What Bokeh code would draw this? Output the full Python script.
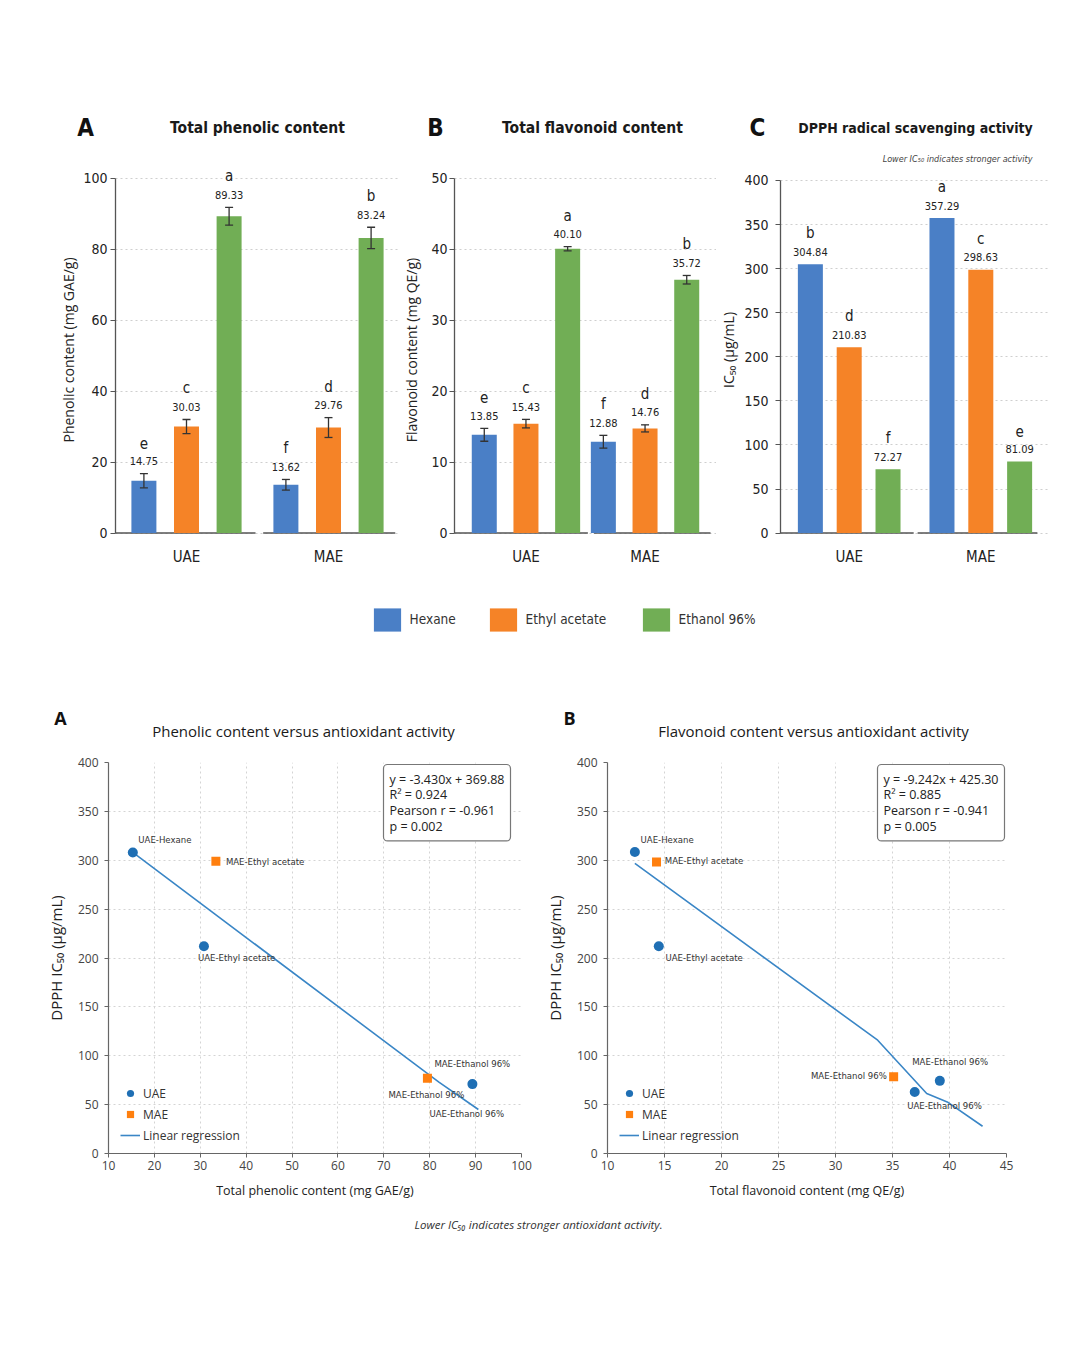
from bokeh.plotting import figure
from bokeh.models import (ColumnDataSource, FactorRange, Range1d, Label, LabelSet,
                          Legend, LegendItem, Spacer, FixedTicker)
from bokeh.transform import dodge
from bokeh.layouts import column, row
from bokeh.embed import file_html
from bokeh.resources import INLINE
from bokeh.core.properties import value

# ---------------- data ----------------
groups = ["UAE", "MAE"]
solvents = ["Hexane", "Ethyl acetate", "Ethanol 96%"]

tpc_uae = [14.75, 30.03, 89.33]
tpc_mae = [13.62, 29.76, 83.24]
tpc_err_uae = [2.0, 2.0, 2.5]
tpc_err_mae = [1.5, 2.8, 3.0]
tpc_let_uae = ["e", "c", "a"]
tpc_let_mae = ["f", "d", "b"]

tfc_uae = [13.85, 15.43, 40.10]
tfc_mae = [12.88, 14.76, 35.72]
tfc_err_uae = [0.9, 0.6, 0.3]
tfc_err_mae = [0.9, 0.5, 0.6]
tfc_let_uae = ["e", "c", "a"]
tfc_let_mae = ["f", "d", "b"]

ic50_uae = [304.84, 210.83, 72.27]
ic50_mae = [357.29, 298.63, 81.09]
ic50_err_uae = [0, 0, 0]
ic50_err_mae = [0, 0, 0]
ic50_let_uae = ["b", "d", "f"]
ic50_let_mae = ["a", "c", "e"]

# correlation A: phenolic content vs DPPH IC50
ph_uae_x = [15.3, 30.8, 89.3]
ph_uae_y = [308, 212, 71]
ph_mae_x = [33.4, 79.5]
ph_mae_y = [299, 77]
ph_fit_x = [15.3, 82.0, 90.6]
ph_fit_y = [308, 73, 45]
ph_stats = ["y = -3.430x + 369.88", "R² = 0.924", "Pearson r = -0.961", "p = 0.002"]
ph_labels = ["UAE-Hexane", "MAE-Ethyl acetate", "UAE-Ethyl acetate",
             "MAE-Ethanol 96%", "MAE-Ethanol 96%", "UAE-Ethanol 96%"]

# correlation B: flavonoid content vs DPPH IC50
fl_uae_x = [12.4, 14.5, 36.95, 39.15]
fl_uae_y = [308.5, 212, 63, 74.3]
fl_mae_x = [14.3, 35.1]
fl_mae_y = [298.3, 78.4]
fl_fit_x = [12.4, 33.7, 38.0, 39.8, 42.9]
fl_fit_y = [296.7, 115.9, 61.4, 52.8, 27.9]
fl_stats = ["y = -9.242x + 425.30", "R² = 0.885", "Pearson r = -0.941", "p = 0.005"]
fl_labels = ["UAE-Hexane", "MAE-Ethyl acetate", "UAE-Ethyl acetate",
             "MAE-Ethanol 96%", "MAE-Ethanol 96%", "UAE-Ethanol 96%"]

# ---------------- styles ----------------
COND = "DejaVu Sans Condensed, Roboto"
SANS = "Open Sans"
INK = "#222222"
AXC = "#555555"
COLORS = ["#4a7fc6", "#f58327", "#71ae55"]
PT_BLUE = "#1f6fb4"
PT_ORANGE = "#ff7f0e"
FIT_COLOR = "#3a86c6"


def blank(width, height):
    f = figure(width=width, height=height, x_range=Range1d(0, 1), y_range=Range1d(0, 1),
               x_axis_type=None, y_axis_type=None, min_border=0,
               output_backend="svg", toolbar_location=None)
    f.outline_line_color = None
    return f


def add_text(f, x, y, text, font, size, style="normal", color=INK, align="center"):
    f.add_layout(Label(x=x, y=y, x_units="screen", y_units="screen", text=text,
                       text_font=font, text_font_size=size, text_font_style=style,
                       text_color=color, text_align=align, text_baseline="middle"))


def bar_panel(ylabel, uae, mae, err_u, err_m, let_u, let_m,
              ymax, ystep, axis_px, frame_w, b_left, b_right, pad, offs, bw,
              base_lo, base_hi, tick_sd, lab_sd):
    xr = FactorRange(factors=groups, range_padding=pad)
    y0 = -ymax * 0.004
    y_end = ymax * 369.0 / axis_px
    p = figure(x_range=xr, y_range=Range1d(y0, y_end), frame_width=frame_w, frame_height=369,
               min_border_left=b_left, min_border_right=b_right, min_border_top=0,
               min_border_bottom=51, output_backend="svg", toolbar_location=None)
    p.outline_line_color = None
    p.xgrid.grid_line_color = None
    p.ygrid.grid_line_color = "#cfcfcf"
    p.ygrid.grid_line_dash = "2 3"
    p.yaxis.ticker = FixedTicker(ticks=list(range(0, ymax + 1, ystep)))
    ya = p.yaxis[0]
    ya.bounds = (0, ymax)
    ya.axis_line_color = AXC
    ya.axis_line_width = 1.3
    ya.major_tick_line_color = AXC
    ya.major_tick_out = 5
    ya.major_tick_in = 0
    ya.minor_tick_line_color = None
    ya.major_label_text_font = COND
    ya.major_label_text_font_size = "14px"
    ya.major_label_text_color = INK
    ya.major_label_standoff = tick_sd
    ya.axis_label = ylabel
    ya.axis_label_text_font = SANS
    ya.axis_label_text_font_size = "14px"
    ya.axis_label_text_font_style = "normal"
    ya.axis_label_text_color = INK
    ya.axis_label_standoff = lab_sd
    xa = p.xaxis[0]
    xa.axis_line_color = None
    xa.major_tick_line_color = None
    xa.minor_tick_line_color = None
    xa.major_label_text_font = COND
    xa.major_label_text_font_size = "15px"
    xa.major_label_text_color = INK
    xa.major_label_standoff = 7

    base = ColumnDataSource(dict(x0=[[g, lo] for g, lo in zip(groups, base_lo)],
                                 x1=[[g, hi] for g, hi in zip(groups, base_hi)],
                                 y=[0, 0]))
    p.segment(x0="x0", y0="y", x1="x1", y1="y", source=base, line_color=AXC, line_width=1.5)

    for i in range(3):
        hi = [uae[i] + err_u[i], mae[i] + err_m[i]]
        lo = [uae[i] - err_u[i], mae[i] - err_m[i]]
        src = ColumnDataSource(dict(group=groups, val=[uae[i], mae[i]], hi=hi, lo=lo,
                                    txt=[f"{uae[i]:.2f}", f"{mae[i]:.2f}"],
                                    let=[let_u[i], let_m[i]]))
        xd = dodge("group", offs[i], range=xr)
        p.vbar(x=xd, top="val", bottom=0, width=bw, source=src,
               fill_color=COLORS[i], line_color=None)
        if max(err_u[i], err_m[i]) > 0:
            p.segment(x0=xd, y0="lo", x1=xd, y1="hi", source=src, line_color="#333333", line_width=1.3)
            p.scatter(x=xd, y="hi", source=src, marker="dash", size=8, line_color="#333333", line_width=1.3)
            p.scatter(x=xd, y="lo", source=src, marker="dash", size=8, line_color="#333333", line_width=1.3)
        p.add_layout(LabelSet(x=xd, y="hi", text="txt", source=src, y_offset=12.5,
                              text_align="center", text_baseline="middle",
                              text_font=value(COND), text_font_size=value("11px"),
                              text_color=INK))
        p.add_layout(LabelSet(x=xd, y="hi", text="let", source=src, y_offset=31,
                              text_align="center", text_baseline="middle",
                              text_font=value(COND), text_font_size=value("15px"),
                              text_color=INK))
    return p


# ---------------- top header (panel letters and titles) ----------------
hdr_top = blank(1080, 65)
add_text(hdr_top, 85, 38, "A", COND, "24px", "bold", "#111111")
add_text(hdr_top, 257, 38, "Total phenolic content", COND, "15.5px", "bold", "#1a1a1a")
add_text(hdr_top, 435, 38, "B", COND, "24px", "bold", "#111111")
add_text(hdr_top, 592, 38, "Total flavonoid content", COND, "15.5px", "bold", "#1a1a1a")
add_text(hdr_top, 757, 38, "C", COND, "24px", "bold", "#111111")
add_text(hdr_top, 915, 38, "DPPH radical scavenging activity", COND, "14px", "bold", "#1a1a1a")
add_text(hdr_top, 1032, 7, "Lower IC₅₀ indicates stronger activity", COND, "9px", "italic",
         "#444444", "right")

pA = bar_panel("Phenolic content (mg GAE/g)",
               tpc_uae, tpc_mae, tpc_err_uae, tpc_err_mae, tpc_let_uae, tpc_let_mae,
               100, 20, 356, 284, 115, 0, 0.0, [-0.3, 0.0, 0.3], 0.176,
               [-1.0, -0.46], [0.486, 0.47], 3, 2)
pB = bar_panel("Flavonoid content (mg QE/g)",
               tfc_uae, tfc_mae, tfc_err_uae, tfc_err_mae, tfc_let_uae, tfc_let_mae,
               50, 10, 356, 262, 53, 0, 0.1, [-0.35, 0.0, 0.35], 0.21,
               [-1.0, -0.43], [0.52, 0.55], 2, 7)
pC = bar_panel("IC₅₀ (μg/mL)",
               ic50_uae, ic50_mae, ic50_err_uae, ic50_err_mae, ic50_let_uae, ic50_let_mae,
               400, 50, 354, 269, 64, 33, 0.022, [-0.295, 0.0, 0.295], 0.19,
               [-1.0, -0.48], [0.49, 0.43], 7, 3)

# ---------------- shared legend ----------------
lg = figure(width=1080, height=70, x_range=FactorRange(factors=solvents), y_range=Range1d(0, 1),
            x_axis_type=None, y_axis_type=None, min_border=0,
            output_backend="svg", toolbar_location=None)
lg.outline_line_color = None
legend_x = [369.6, 485.6, 638.6]
for i, s in enumerate(solvents):
    r = lg.vbar(x=[s], top=[0], width=0.1, fill_color=COLORS[i], line_color=None)
    lg.add_layout(Legend(items=[LegendItem(label=value(s), renderers=[r])],
                         location=(legend_x[i], 21.5), glyph_width=34, glyph_height=29,
                         label_text_font=COND, label_text_font_size="13.5px",
                         label_text_color="#333333", label_standoff=6,
                         padding=0, margin=0, border_line_color=None,
                         background_fill_alpha=0))


def scatter_panel(xlabel, xmin, xmax, xstep, frame_w, b_left, b_right,
                  ux, uy, mx, my, fx, fy, lab_t, lab_x, lab_y, lab_dx, lab_dy,
                  stats, box_x):
    p = figure(x_range=Range1d(xmin, xmax), y_range=Range1d(0, 400),
               frame_width=frame_w, frame_height=391,
               min_border_left=b_left, min_border_right=b_right,
               min_border_top=12, min_border_bottom=52,
               output_backend="svg", toolbar_location=None)
    p.outline_line_color = None
    p.grid.grid_line_color = "#d4d4d4"
    p.grid.grid_line_dash = "2 3"
    p.xaxis.ticker = FixedTicker(ticks=list(range(xmin, xmax + 1, xstep)))
    p.yaxis.ticker = FixedTicker(ticks=list(range(0, 401, 50)))
    for ax in (p.xaxis[0], p.yaxis[0]):
        ax.axis_line_color = "#666666"
        ax.axis_line_width = 1.2
        ax.major_tick_line_color = "#666666"
        ax.major_tick_out = 4
        ax.major_tick_in = 0
        ax.minor_tick_line_color = None
        ax.major_label_text_font = SANS
        ax.major_label_text_font_size = "12px"
        ax.major_label_text_color = "#444444"
        ax.axis_label_text_font = SANS
        ax.axis_label_text_font_style = "normal"
        ax.axis_label_text_color = "#222222"
    p.xaxis[0].major_label_standoff = 3
    p.yaxis[0].major_label_standoff = 6
    p.xaxis[0].axis_label = xlabel
    p.xaxis[0].axis_label_text_font_size = "12.5px"
    p.xaxis[0].axis_label_standoff = 9
    p.yaxis[0].axis_label = "DPPH IC₅₀ (μg/mL)"
    p.yaxis[0].axis_label_text_font_size = "15px"
    p.yaxis[0].axis_label_standoff = 9

    r_fit = p.line(x=fx, y=fy, line_color=FIT_COLOR, line_width=1.6)
    r_u = p.scatter(x=ux, y=uy, marker="circle", size=10, fill_color=PT_BLUE, line_color=None)
    r_m = p.scatter(x=mx, y=my, marker="square", size=9, fill_color=PT_ORANGE, line_color=None)

    src = ColumnDataSource(dict(x=lab_x, y=lab_y, t=lab_t, dx=lab_dx, dy=lab_dy))
    p.text(x="x", y="y", text="t", x_offset="dx", y_offset="dy", source=src,
           text_font=value(COND), text_font_size=value("9.5px"), text_color="#333333",
           text_align="left", text_baseline="middle")

    leg = Legend(items=[LegendItem(label=value("UAE"), renderers=[r_u]),
                        LegendItem(label=value("MAE"), renderers=[r_m]),
                        LegendItem(label=value("Linear regression"), renderers=[r_fit])],
                 location=(12, 9), orientation="vertical", border_line_color=None,
                 background_fill_alpha=0, padding=0, margin=0, spacing=3,
                 glyph_width=20, glyph_height=18, label_height=18, label_standoff=3,
                 label_text_font=SANS, label_text_font_size="12px", label_text_color="#333333")
    p.add_layout(leg)

    p.add_layout(Label(x=box_x, y=389, x_units="screen", y_units="screen",
                       text="\n".join(stats), text_font=SANS, text_font_size="12.5px",
                       text_color="#222222", text_line_height=0.93,
                       text_align="left", text_baseline="top",
                       border_line_color="#777777", border_line_width=1.2,
                       background_fill_color="white", padding=6, border_radius=4))
    return p


# ---------------- bottom header ----------------
hdr_bot = blank(1080, 95)
add_text(hdr_bot, 60, 33, "A", SANS, "18px", "bold", "#111111")
add_text(hdr_bot, 303, 20, "Phenolic content versus antioxidant activity", SANS, "15px",
         "normal", "#1a1a1a")
add_text(hdr_bot, 569, 33, "B", SANS, "18px", "bold", "#111111")
add_text(hdr_bot, 813, 20, "Flavonoid content versus antioxidant activity", SANS, "15px",
         "normal", "#1a1a1a")

pD = scatter_panel("Total phenolic content (mg GAE/g)", 10, 100, 10, 413, 108, 19,
                   ph_uae_x, ph_uae_y, ph_mae_x, ph_mae_y, ph_fit_x, ph_fit_y,
                   ph_labels,
                   [ph_uae_x[0], ph_mae_x[0], ph_uae_x[1], ph_uae_x[2], ph_mae_x[1], ph_uae_x[2]],
                   [ph_uae_y[0], ph_mae_y[0], ph_uae_y[1], ph_uae_y[2], ph_mae_y[1], ph_uae_y[2]],
                   [5.5, 10, -6, -38, -39, -43],
                   [-12.5, 0, 11, -21, 16, 29],
                   ph_stats, 275)

pE = scatter_panel("Total flavonoid content (mg QE/g)", 10, 45, 5, 399, 67, 74,
                   fl_uae_x, fl_uae_y, fl_mae_x, fl_mae_y, fl_fit_x, fl_fit_y,
                   fl_labels,
                   [fl_uae_x[0], fl_mae_x[0], fl_uae_x[1], fl_mae_x[1], fl_uae_x[3], fl_uae_x[2]],
                   [fl_uae_y[0], fl_mae_y[0], fl_uae_y[1], fl_mae_y[1], fl_uae_y[3], fl_uae_y[2]],
                   [5.7, 8.3, 6.7, -82.7, -27.6, -7.6],
                   [-12.4, -1.4, 11.3, -1.7, -19, 13.3],
                   fl_stats, 270)

cap = blank(1080, 40)
add_text(cap, 538, 21, "Lower IC₅₀ indicates stronger antioxidant activity.", SANS, "11.5px",
         "italic", "#333333")

layout = column(Spacer(width=1080, height=100), hdr_top, row(pA, pB, pC), lg,
                hdr_bot, row(pD, pE), cap)

open("out.html", "w").write(file_html(layout, INLINE))
